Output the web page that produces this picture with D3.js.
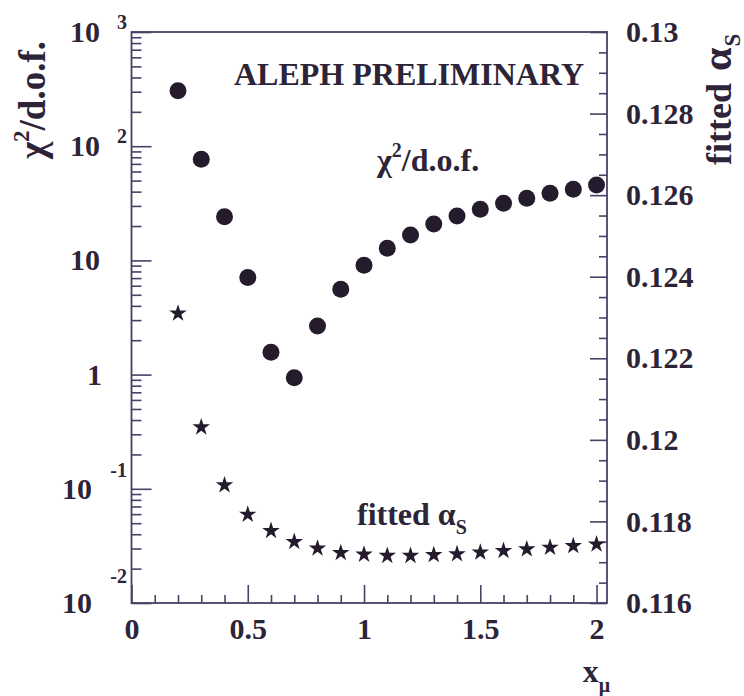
<!DOCTYPE html>
<html>
<head>
<meta charset="utf-8">
<script src="https://cdn.jsdelivr.net/npm/d3@7/dist/d3.min.js"></script>
<style>
  html, body { margin: 0; padding: 0; background: #ffffff; }
  svg { display: block; }
  text { font-family: "Liberation Serif", "DejaVu Serif", "Times New Roman", Times, serif; font-weight: bold; fill: #2d2438; }
</style>
</head>
<body>
<svg id="chart" width="744" height="696"></svg>
<script>
// Renormalisation scale x_mu scanned from 0.2 to 2.0
const xMu = [0.2, 0.3, 0.4, 0.5, 0.6, 0.7, 0.8, 0.9, 1.0, 1.1, 1.2, 1.3, 1.4, 1.5, 1.6, 1.7, 1.8, 1.9, 2.0];
// chi^2 per degree of freedom of the fit (left, log axis)
const chi2dof = [306, 77, 24.1, 7.1, 1.57, 0.94, 2.67, 5.58, 9.06, 12.8, 16.7, 20.8, 24.5, 28.0, 31.6, 35.0, 38.7, 42.0, 45.7];
// fitted alpha_s (right, linear axis)
const alphaS = [0.1231, 0.12031, 0.11889, 0.11817, 0.11777, 0.1175, 0.11734, 0.11723, 0.11719, 0.11716,
                0.11716, 0.11718, 0.1172, 0.11724, 0.11728, 0.11732, 0.11736, 0.1174, 0.11744];

// axis ticks
const xMajorTicks = [0, 0.5, 1, 1.5, 2];
const xMinorTicks = [0.1, 0.2, 0.3, 0.4, 0.6, 0.7, 0.8, 0.9, 1.1, 1.2, 1.3, 1.4, 1.6, 1.7, 1.8, 1.9];
const chiDecades = [-2, -1, 0, 1, 2, 3];
const chiLabels = [
  { exp: -2, base: "10", sup: "-2" },
  { exp: -1, base: "10", sup: "-1" },
  { exp: 0,  base: "1",  sup: "" },
  { exp: 1,  base: "10", sup: "" },
  { exp: 2,  base: "10", sup: "2" },
  { exp: 3,  base: "10", sup: "3" }
];
const alphaMajorTicks = [0.116, 0.118, 0.12, 0.122, 0.124, 0.126, 0.128, 0.13];

const FONT = "Liberation Serif, DejaVu Serif, Times New Roman, Times, serif";
const svg = d3.select("#chart");
const AX = "#4a4066";
const INK = "#241b2c";

const frameL = 131.5, frameR = 607, frameT = 32, frameB = 603;

const x = d3.scaleLinear().domain([0, 2.045]).range([frameL, frameR]);
const yChi = d3.scaleLog().domain([1e-2, 1e3]).range([frameB, frameT]);
const yAlpha = d3.scaleLinear().domain([0.116, 0.13]).range([frameB, frameT]);

function styleAxis(g) {
  g.select(".domain").remove();
  g.selectAll(".tick line").attr("stroke", AX).attr("stroke-width", 1.6);
  g.selectAll(".tick text").attr("fill", "#2d2438").attr("font-size", 30)
    .attr("font-family", FONT).attr("font-weight", "bold");
}

// frame
svg.append("rect").attr("x", frameL).attr("y", frameT)
  .attr("width", frameR - frameL).attr("height", frameB - frameT)
  .attr("fill", "none").attr("stroke", AX).attr("stroke-width", 1.8);

// bottom axis: minor then major ticks pointing into the frame
svg.append("g").attr("transform", `translate(0,${frameB})`)
  .call(d3.axisBottom(x).tickValues(xMinorTicks).tickSize(-8).tickFormat(""))
  .call(styleAxis);
svg.append("g").attr("transform", `translate(0,${frameB})`)
  .call(d3.axisBottom(x).tickValues(xMajorTicks).tickSize(-18).tickPadding(15)
    .tickFormat(d => String(d)))
  .call(styleAxis);

// left log axis: minor ticks 2..9 in every decade, major ticks at powers of ten
const chiMinor = [];
chiDecades.slice(0, -1).forEach(e => { for (let k = 2; k <= 9; k++) chiMinor.push(k * Math.pow(10, e)); });
svg.append("g").attr("transform", `translate(${frameL},0)`)
  .call(d3.axisLeft(yChi).tickValues(chiMinor).tickSize(-10).tickFormat(""))
  .call(styleAxis);
svg.append("g").attr("transform", `translate(${frameL},0)`)
  .call(d3.axisLeft(yChi).tickValues(chiDecades.map(e => Math.pow(10, e))).tickSize(-20).tickFormat(""))
  .call(styleAxis);

// left axis labels written as powers of ten
const chiLab = svg.append("g");
chiLabels.forEach(l => {
  const yy = yChi(Math.pow(10, l.exp));
  if (l.sup) {
    const rise = l.exp < 0 ? 14 - 8 * l.exp : 13;
    chiLab.append("text").attr("x", 127).attr("y", yy + 10 - rise)
      .attr("text-anchor", "end").attr("font-size", 20).text(l.sup);
    chiLab.append("text").attr("x", l.exp < 0 ? 92 : 100).attr("y", yy + 10)
      .attr("text-anchor", "end").attr("font-size", 30).text(l.base);
  } else {
    chiLab.append("text").attr("x", l.base === "1" ? 102 : 100).attr("y", yy + 10)
      .attr("text-anchor", "end").attr("font-size", 30).text(l.base);
  }
});

// right linear axis for alpha_s
const alphaMinor = d3.range(0.1165, 0.13, 0.0005).filter(v => Math.abs(v / 0.002 - Math.round(v / 0.002)) > 0.05);
svg.append("g").attr("transform", `translate(${frameR},0)`)
  .call(d3.axisRight(yAlpha).tickValues(alphaMinor).tickSize(-8).tickFormat(""))
  .call(styleAxis);
svg.append("g").attr("transform", `translate(${frameR},0)`)
  .call(d3.axisRight(yAlpha).tickValues(alphaMajorTicks).tickSize(-17).tickPadding(19)
    .tickFormat(d => String(+d.toFixed(3))))
  .call(styleAxis);

// chi^2/d.o.f. points
svg.append("g").selectAll("circle").data(xMu).join("circle")
  .attr("cx", d => x(d)).attr("cy", (d, i) => yChi(chi2dof[i]))
  .attr("r", 8.5).attr("fill", INK);

// fitted alpha_s points
const star = d3.symbol().type(d3.symbolStar).size(95);
svg.append("g").selectAll("path").data(xMu).join("path")
  .attr("d", star)
  .attr("transform", (d, i) => `translate(${x(d)},${yAlpha(alphaS[i])})`)
  .attr("fill", INK);

// annotations
svg.append("text").attr("x", 234).attr("y", 85).attr("font-size", 32).text("ALEPH PRELIMINARY");

const chiNote = svg.append("text").attr("x", 377).attr("y", 171).attr("font-size", 32);
chiNote.append("tspan").text("\u03C7");
chiNote.append("tspan").attr("dy", -14).attr("font-size", 20).text("2");
chiNote.append("tspan").attr("dy", 14).text("/d.o.f.");

const alphaNote = svg.append("text").attr("x", 357).attr("y", 525).attr("font-size", 32);
alphaNote.append("tspan").text("fitted \u03B1");
alphaNote.append("tspan").attr("dy", 9).attr("font-size", 20).text("S");

// axis titles
const xTitle = svg.append("text").attr("x", 610).attr("y", 682).attr("text-anchor", "end").attr("font-size", 32);
xTitle.append("tspan").text("x");
xTitle.append("tspan").attr("dy", 10).attr("font-size", 20).text("\u03BC");

const yTitle = svg.append("text").attr("transform", "translate(45,159) rotate(-90)")
  .attr("text-anchor", "start").attr("font-size", 37);
yTitle.append("tspan").text("\u03C7");
yTitle.append("tspan").attr("dy", -16).attr("font-size", 23).text("2");
yTitle.append("tspan").attr("dy", 16).text("/d.o.f.");

const y2Title = svg.append("text").attr("transform", "translate(731,165) rotate(-90)")
  .attr("text-anchor", "start").attr("font-size", 36);
y2Title.append("tspan").text("fitted");
y2Title.append("tspan").attr("dx", 12).attr("font-size", 42).text("\u03B1");
y2Title.append("tspan").attr("dx", 1).attr("dy", 9).attr("font-size", 23).text("S");
</script>
</body>
</html>
